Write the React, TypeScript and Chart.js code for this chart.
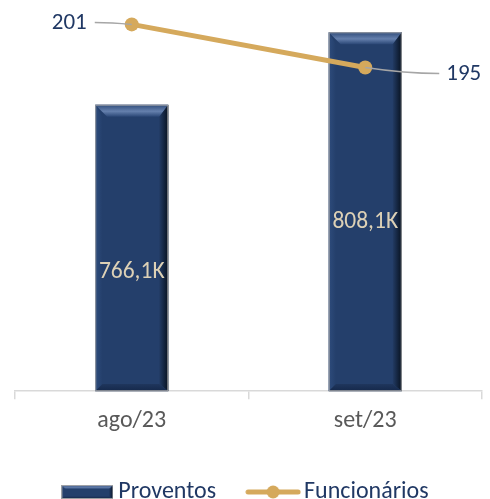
import { useEffect, useRef } from "react";
import { Chart, registerables } from "chart.js";
Chart.register(...registerables);

const categories = ["ago/23", "set/23"];
const proventos = [766.1, 808.1];
const proventosLabels = ["766,1K", "808,1K"];
const funcionarios = [201, 195];
const funcionariosLabels = ["201", "195"];

const NAVY = "#243f6b";
const NAVY_TEXT = "#203864";
const GOLD = "#d5a95c";
const TAN = "#ddd1b6";
const GRAY_AXIS = "#d9d9d9";
const FONT = "Carlito, Lato, 'Liberation Sans', sans-serif";

function drawBevel(ctx: CanvasRenderingContext2D, left: number, top: number, right: number, bottom: number, b: number, rb: number) {
  let g = ctx.createLinearGradient(0, top, 0, top + b);
  g.addColorStop(0, "#304c7a");
  g.addColorStop(0.55, "#6580ad");
  g.addColorStop(1, "#2b4776");
  ctx.fillStyle = g;
  ctx.beginPath();
  ctx.moveTo(left, top);
  ctx.lineTo(right, top);
  ctx.lineTo(right - rb, top + b);
  ctx.lineTo(left + b, top + b);
  ctx.closePath();
  ctx.fill();
  g = ctx.createLinearGradient(right - rb, 0, right, 0);
  g.addColorStop(0, "#223b64");
  g.addColorStop(1, "#07111f");
  ctx.fillStyle = g;
  ctx.beginPath();
  ctx.moveTo(right, top);
  ctx.lineTo(right, bottom);
  ctx.lineTo(right - rb, bottom - b * 0.6);
  ctx.lineTo(right - rb, top + b);
  ctx.closePath();
  ctx.fill();
  g = ctx.createLinearGradient(left, 0, left + b * 0.6, 0);
  g.addColorStop(0, "#2e4c7c");
  g.addColorStop(1, NAVY);
  ctx.fillStyle = g;
  ctx.beginPath();
  ctx.moveTo(left, top);
  ctx.lineTo(left + b * 0.6, top + b);
  ctx.lineTo(left + b * 0.6, bottom - b * 0.6);
  ctx.lineTo(left, bottom);
  ctx.closePath();
  ctx.fill();
  g = ctx.createLinearGradient(0, bottom - b * 0.6, 0, bottom);
  g.addColorStop(0, "#1f365d");
  g.addColorStop(1, "#15284a");
  ctx.fillStyle = g;
  ctx.beginPath();
  ctx.moveTo(left, bottom);
  ctx.lineTo(right, bottom);
  ctx.lineTo(right - rb, bottom - b * 0.6);
  ctx.lineTo(left + b * 0.6, bottom - b * 0.6);
  ctx.closePath();
  ctx.fill();
  ctx.strokeStyle = "rgba(170,170,170,0.9)";
  ctx.lineWidth = 1;
  ctx.strokeRect(left + 0.5, top + 0.5, right - left - 1, bottom - top - 1);
}

const bevelPlugin = {
  id: "bevel",
  afterDatasetDraw(chart: any, args: any) {
    if (args.meta.type !== "bar") return;
    const ctx = chart.ctx as CanvasRenderingContext2D;
    ctx.save();
    args.meta.data.forEach((el: any) => {
      const { x, y, base, width } = el.getProps(["x", "y", "base", "width"], true);
      drawBevel(ctx, x - width / 2, y, x + width / 2, base, 12, 9);
    });
    ctx.restore();
  },
};

const BAR_LABEL_SHIFT = [24, 10];

const labelPlugin = {
  id: "labels",
  afterDatasetsDraw(chart: any) {
    const ctx = chart.ctx as CanvasRenderingContext2D;
    ctx.save();
    chart.data.datasets.forEach((ds: any, di: number) => {
      const meta = chart.getDatasetMeta(di);
      meta.data.forEach((el: any, i: number) => {
        if (ds.type === "bar") {
          const { x, y, base } = el.getProps(["x", "y", "base"], true);
          ctx.fillStyle = TAN;
          ctx.font = `23.5px ${FONT}`;
          ctx.textAlign = "center";
          ctx.textBaseline = "middle";
          ctx.fillText(proventosLabels[i], x, (y + base) / 2 + BAR_LABEL_SHIFT[i]);
        } else {
          const { x, y } = el.getProps(["x", "y"], true);
          const left = i === 0;
          ctx.strokeStyle = "#a6a6a6";
          ctx.lineWidth = 1.5;
          ctx.beginPath();
          if (left) {
            ctx.moveTo(x, y);
            ctx.quadraticCurveTo(x - 20, y - 2, x - 37, y - 2);
          } else {
            ctx.moveTo(x, y);
            ctx.quadraticCurveTo(x + 40, y + 6, x + 74, y + 6);
          }
          ctx.stroke();
          ctx.fillStyle = NAVY_TEXT;
          ctx.font = `23px ${FONT}`;
          ctx.textBaseline = "middle";
          ctx.textAlign = left ? "right" : "left";
          ctx.fillText(funcionariosLabels[i], left ? x - 45 : x + 81, left ? y - 1 : y + 7);
        }
      });
    });
    ctx.restore();
  },
};

function makeBarIcon() {
  const c = document.createElement("canvas");
  c.width = 52;
  c.height = 14;
  const ctx = c.getContext("2d")!;
  ctx.fillStyle = NAVY;
  ctx.fillRect(0, 0, 52, 14);
  drawBevel(ctx, 0, 0, 52, 14, 4, 4);
  return c;
}

function makeLineIcon() {
  const c = document.createElement("canvas");
  c.width = 56;
  c.height = 14;
  const ctx = c.getContext("2d")!;
  ctx.strokeStyle = GOLD;
  ctx.lineWidth = 5;
  ctx.lineCap = "round";
  ctx.beginPath();
  ctx.moveTo(3, 7);
  ctx.lineTo(53, 7);
  ctx.stroke();
  ctx.fillStyle = GOLD;
  ctx.beginPath();
  ctx.arc(28, 7, 6.5, 0, Math.PI * 2);
  ctx.fill();
  return c;
}

export default function App() {
  const ref = useRef<HTMLCanvasElement>(null);
  useEffect(() => {
    document.body.style.margin = "0";
    const barIcon = makeBarIcon();
    const lineIcon = makeLineIcon();
    const chart = new Chart(ref.current!, {
      type: "bar",
      data: {
        labels: categories,
        datasets: [
          {
            type: "line",
            label: "Funcionários",
            data: funcionarios,
            yAxisID: "y2",
            borderColor: GOLD,
            backgroundColor: GOLD,
            borderWidth: 5,
            pointRadius: 7,
            pointHoverRadius: 7,
            pointBackgroundColor: GOLD,
            pointBorderWidth: 0,
            order: 0,
          } as any,
          {
            type: "bar",
            label: "Proventos",
            data: proventos,
            yAxisID: "y",
            base: 600,
            backgroundColor: NAVY,
            barPercentage: 0.313,
            categoryPercentage: 1,
            order: 1,
          } as any,
        ],
      },
      options: {
        responsive: false,
        animation: false,
        layout: { padding: { left: 15, right: 8, top: 10, bottom: -15 } },
        scales: {
          x: {
            grid: { offset: true, drawOnChartArea: false, color: GRAY_AXIS, tickLength: 8, lineWidth: 1.5 },
            border: { color: GRAY_AXIS, width: 1.5 },
            ticks: { color: "#595959", font: { family: FONT, size: 24 }, padding: 7 },
          } as any,
          y: { display: false, min: 600, max: 821 },
          y2: { display: false, min: 150, max: 203, position: "right" },
        },
        plugins: {
          tooltip: { enabled: false },
          legend: {
            position: "bottom",
            labels: {
              usePointStyle: true,
              pointStyleWidth: 38,
              padding: 38,
              color: NAVY_TEXT,
              font: { family: FONT, size: 24 },
              generateLabels: () => [
                { text: "Proventos", pointStyle: barIcon as any, fillStyle: NAVY, strokeStyle: NAVY, lineWidth: 0, hidden: false, datasetIndex: 1, fontColor: NAVY_TEXT },
                { text: "Funcionários", pointStyle: lineIcon as any, fillStyle: GOLD, strokeStyle: GOLD, lineWidth: 0, hidden: false, datasetIndex: 0, fontColor: NAVY_TEXT },
              ],
            },
          },
        },
      },
      plugins: [bevelPlugin, labelPlugin],
    });
    return () => chart.destroy();
  }, []);
  return <canvas ref={ref} width={490} height={499} style={{ display: "block" }} />;
}
